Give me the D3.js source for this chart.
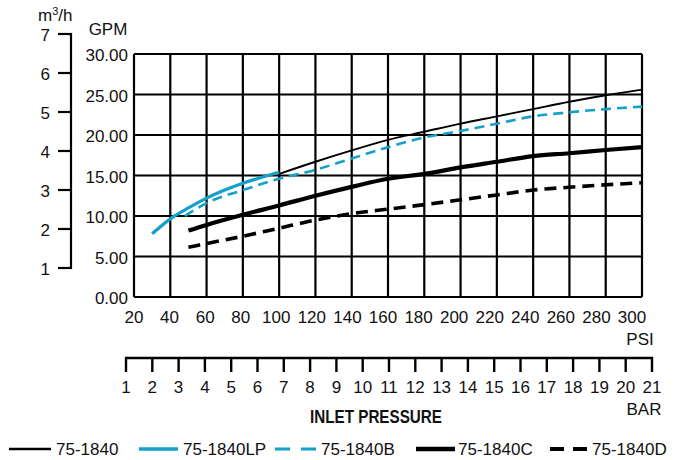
<!DOCTYPE html>
<html><head><meta charset="utf-8">
<script src="https://cdn.jsdelivr.net/npm/d3@7"></script>
<style>
body{margin:0;background:#fff;}
svg text{font-family:"Liberation Sans",Arial,sans-serif;fill:#111;}
</style></head>
<body><svg id="c" width="679" height="460"></svg>
<script>
const psiTicks = [20,40,60,80,100,120,140,160,180,200,220,240,260,280,300];
const gpmTicks = [0,5,10,15,20,25,30];
const m3hTicks = [1,2,3,4,5,6,7];
const barTicks = d3.range(1,22);

const s1840_psi = [100,120,140,160,180,200,220,240,260,280,300];
const s1840_gpm = [15.2,16.7,18.1,19.4,20.4,21.4,22.3,23.2,24.1,24.9,25.6];
const sLP_psi = [30,40,50,60,70,80,90,100];
const sLP_gpm = [7.8,9.65,11.0,12.2,13.2,14.05,14.75,15.4];
const sB_psi = [48,60,80,100,120,140,160,180,200,220,240,260,280,300];
const sB_gpm = [10.0,11.6,13.2,14.6,15.7,17.1,18.5,19.7,20.5,21.4,22.3,22.8,23.2,23.5];
const sC_psi = [50,60,80,100,120,140,160,180,200,220,240,260,280,300];
const sC_gpm = [8.2,8.9,10.15,11.3,12.5,13.6,14.6,15.2,16.0,16.7,17.4,17.75,18.15,18.5];
const sD_psi = [50,60,80,100,120,140,160,180,200,220,240,260,280,300];
const sD_gpm = [6.15,6.6,7.5,8.5,9.5,10.3,10.85,11.4,12.0,12.6,13.2,13.55,13.85,14.1];

const seriesNames = ["75-1840","75-1840LP","75-1840B","75-1840C","75-1840D"];
const BLUE = "#15a0c8";
const series = [
  {name:seriesNames[0], psi:s1840_psi, gpm:s1840_gpm, color:"#000", w:1.9, dash:null, ldash:null},
  {name:seriesNames[1], psi:sLP_psi, gpm:sLP_gpm, color:BLUE, w:3.2, dash:null, ldash:null},
  {name:seriesNames[2], psi:sB_psi, gpm:sB_gpm, color:BLUE, w:2.6, dash:"10,6", ldash:"15,11"},
  {name:seriesNames[3], psi:sC_psi, gpm:sC_gpm, color:"#000", w:4.2, dash:null, ldash:null},
  {name:seriesNames[4], psi:sD_psi, gpm:sD_gpm, color:"#000", w:3.6, dash:"12,7", ldash:"14,9"}
];

const svg = d3.select("#c");
const x = d3.scaleLinear().domain([20,300]).range([134,642]);
const xLab = d3.scaleLinear().domain([20,300]).range([134,632]);
const y = d3.scaleLinear().domain([0,30]).range([297,54]);
const ym = d3.scaleLinear().domain([1,7]).range([268,34]);
const xb = d3.scaleLinear().domain([1,21]).range([126,652]);

// grid
const g = svg.append("g");
g.selectAll("line.v").data(psiTicks).join("line")
  .attr("x1",d=>x(d)).attr("x2",d=>x(d)).attr("y1",y(0)).attr("y2",y(30))
  .attr("stroke","#000").attr("stroke-width",2.2);
g.selectAll("line.h").data(gpmTicks).join("line").attr("class","h")
  .attr("x1",x(20)).attr("x2",x(300)).attr("y1",d=>y(d)).attr("y2",d=>y(d))
  .attr("stroke","#000").attr("stroke-width",2.2);

// GPM labels
svg.selectAll("text.gpm").data(gpmTicks).join("text").attr("class","gpm")
  .attr("x",128).attr("y",d=>y(d)+7).attr("text-anchor","end")
  .attr("font-size",17).text(d=>d3.format(".2f")(d));
svg.append("text").attr("x",108).attr("y",35).attr("text-anchor","middle").attr("font-size",17).text("GPM");

// m3/h axis
const gm = svg.append("g");
gm.append("line").attr("x1",71).attr("x2",71).attr("y1",ym(7)-1).attr("y2",ym(1)+1).attr("stroke","#000").attr("stroke-width",2.2);
gm.selectAll("line.t").data(m3hTicks).join("line").attr("class","t")
  .attr("x1",58).attr("x2",72).attr("y1",d=>ym(d)).attr("y2",d=>ym(d)).attr("stroke","#000").attr("stroke-width",2.2);
gm.selectAll("text").data(m3hTicks).join("text")
  .attr("x",50).attr("y",d=>ym(d)+7).attr("text-anchor","end").attr("font-size",17).text(d=>d);
const mt = svg.append("text").attr("x",38).attr("y",21).attr("font-size",17);
mt.append("tspan").text("m");
mt.append("tspan").attr("font-size",11).attr("dy",-6).text("3");
mt.append("tspan").attr("dy",6).text("/h");

// PSI labels
svg.selectAll("text.psi").data(psiTicks).join("text").attr("class","psi")
  .attr("x",d=>xLab(d)).attr("y",323).attr("text-anchor","middle").attr("font-size",17).text(d=>d);
svg.append("text").attr("x",640).attr("y",345).attr("text-anchor","middle").attr("font-size",17).text("PSI");

// BAR axis
const gb = svg.append("g");
gb.append("line").attr("x1",xb(1)-1).attr("x2",xb(21)+1).attr("y1",358).attr("y2",358).attr("stroke","#000").attr("stroke-width",2.4);
gb.selectAll("line.t").data(barTicks).join("line").attr("class","t")
  .attr("x1",d=>xb(d)).attr("x2",d=>xb(d)).attr("y1",357).attr("y2",372).attr("stroke","#000").attr("stroke-width",2.4);
gb.selectAll("text").data(barTicks).join("text")
  .attr("x",d=>xb(d)).attr("y",393).attr("text-anchor","middle").attr("font-size",17).text(d=>d);
svg.append("text").attr("x",644).attr("y",415).attr("text-anchor","middle").attr("font-size",17).text("BAR");
svg.append("text").attr("x",310).attr("y",423).attr("font-size",18).attr("font-weight","bold")
  .attr("textLength",132).attr("lengthAdjust","spacingAndGlyphs").text("INLET PRESSURE");

// series
const line = d3.line().curve(d3.curveMonotoneX).x(d=>x(d[0])).y(d=>y(d[1]));
series.forEach(s=>{
  const pts = s.psi.map((p,i)=>[p,s.gpm[i]]);
  svg.append("path").datum(pts).attr("d",line).attr("fill","none")
    .attr("stroke",s.color).attr("stroke-width",s.w)
    .attr("stroke-dasharray",s.dash).attr("stroke-linecap","butt");
});

// legend
const legX = [[9,51,56],[139,178,183],[275,316,321],[416,455,458],[550,587,592]];
series.forEach((s,i)=>{
  const [a,b,t] = legX[i];
  svg.append("line").attr("x1",a).attr("x2",b).attr("y1",449).attr("y2",449)
    .attr("stroke",s.color).attr("stroke-width",s.w+0.4)
    .attr("stroke-dasharray",s.ldash);
  svg.append("text").attr("x",t).attr("y",455).attr("font-size",17).text(s.name);
});
</script></body></html>
